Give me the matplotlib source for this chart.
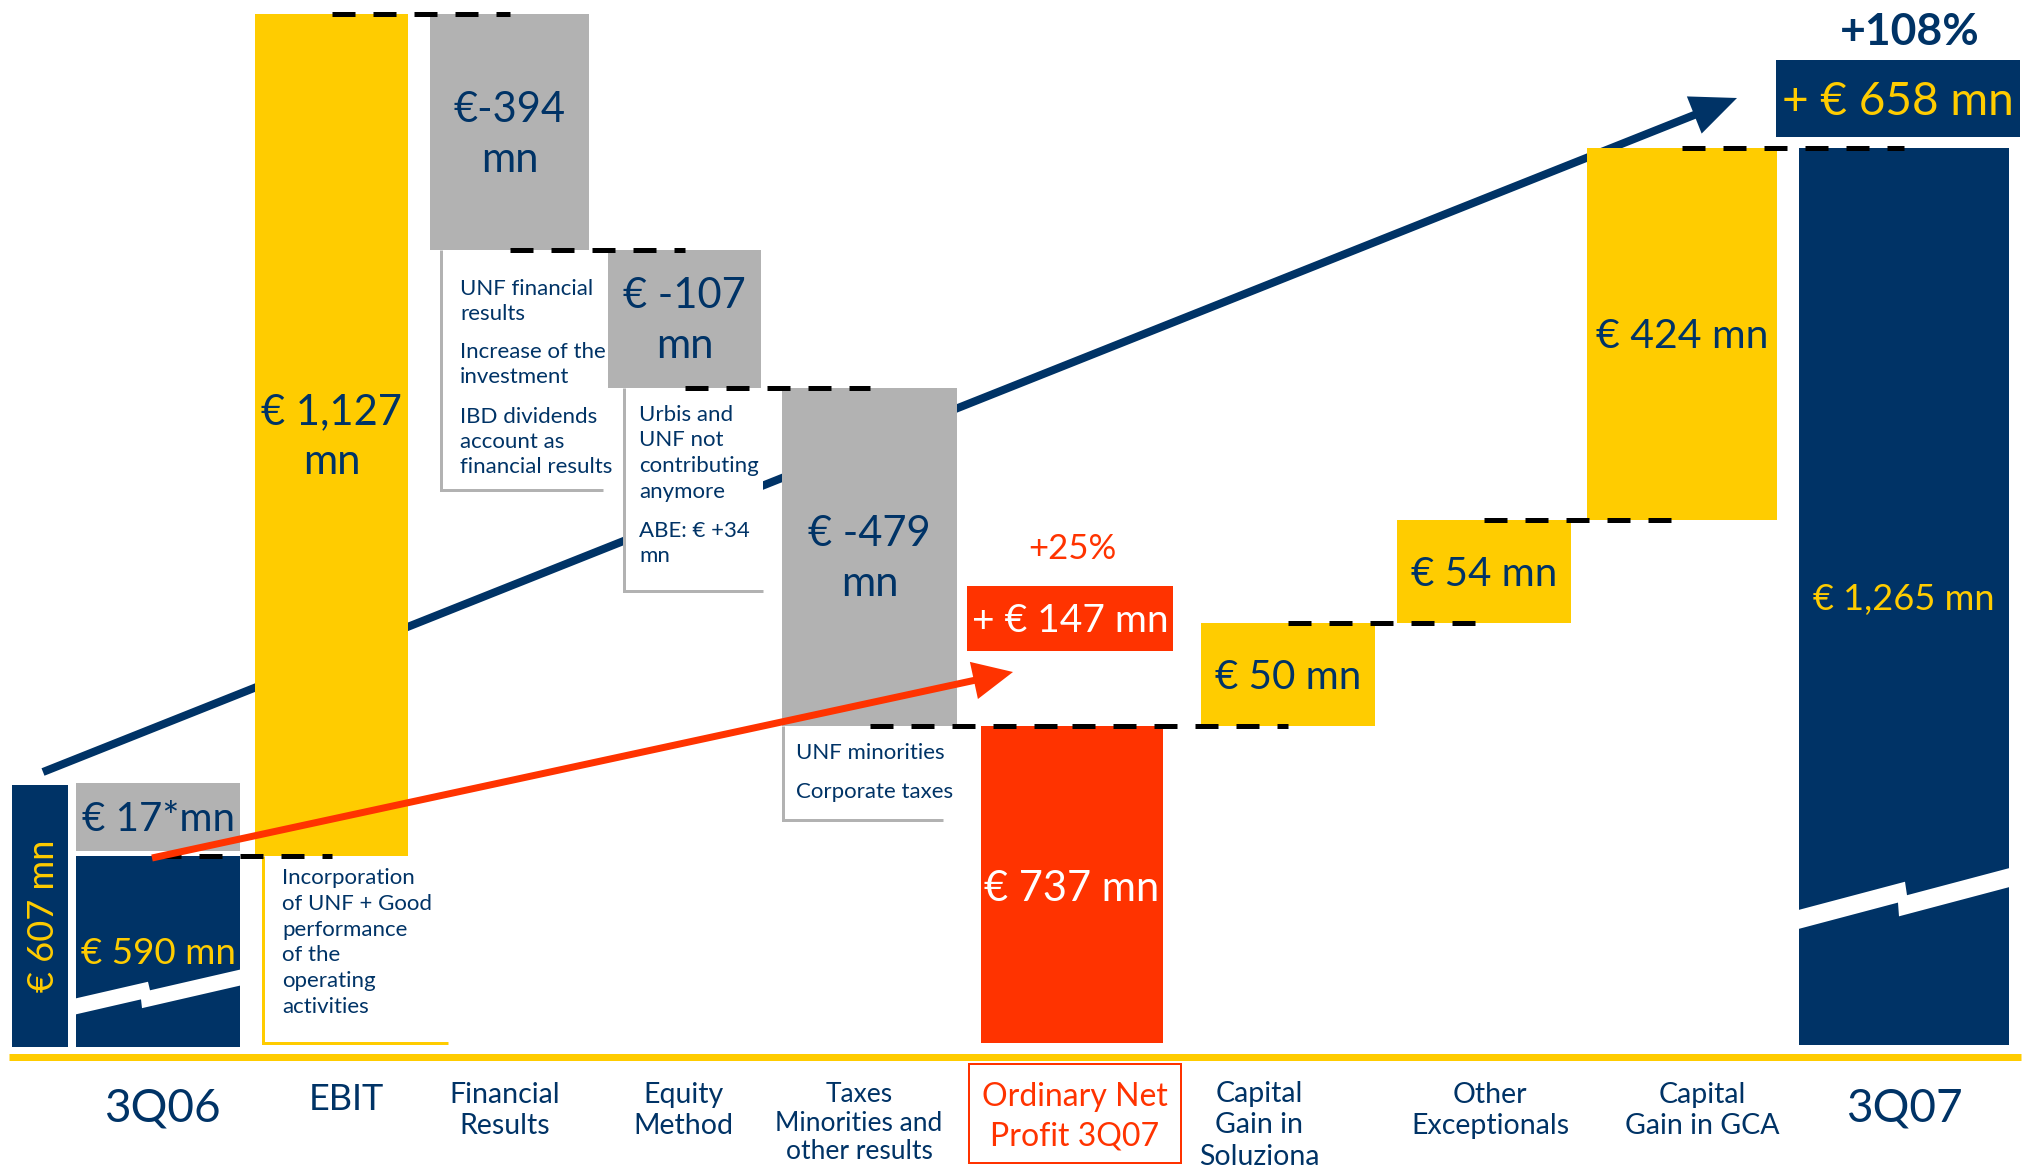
import numpy as np
import matplotlib
matplotlib.use("Agg")
import matplotlib.pyplot as plt
from matplotlib.patches import Rectangle, Polygon, FancyArrow

plt.rcParams['font.family'] = ['Lato', 'DejaVu Sans']

# ---------------- data ----------------
categories = ['3Q06', 'EBIT', 'Financial\nResults', 'Equity\nMethod',
              'Taxes\nMinorities and\nother results', 'Ordinary Net\nProfit 3Q07',
              'Capital\nGain in\nSoluziona', 'Other\nExceptionals',
              'Capital\nGain in GCA', '3Q07']
q306_ordinary = 590
q306_exceptional = 17
q306_total = 607
ordinary_steps = [1127, -394, -107, -479]      # EBIT, Financial, Equity, Taxes
ordinary_3q07 = 737
exceptional_steps = [50, 54, 424]             # Soluziona, Other, GCA
q307_total = 1265
ordinary_growth, ordinary_growth_pct = 147, 25
total_growth, total_growth_pct = 658, 108

# schematic heights as drawn in the picture (broken axis, not to scale), chart units
drawn_q306_ordinary = 191
drawn_q306_exceptional = 68
drawn_q306_total = 262
drawn_ordinary_steps = [842, -236, -138, -338]
drawn_exceptional_steps = [103, 103, 372]

note_ebit = [["Incorporation", "of UNF + Good", "performance", "of the", "operating", "activities"]]
note_fin = [["UNF financial", "results"], ["Increase of the", "investment"],
            ["IBD dividends", "account as", "financial results"]]
note_eq = [["Urbis and", "UNF not", "contributing", "anymore"], ["ABE: € +34", "mn"]]
note_tax = [["UNF minorities"], ["Corporate taxes"]]

# ---------------- style / layout ----------------
NAVY = '#003366'
YELLOW = '#FFCC00'
GRAY = '#B2B2B2'
RED = '#FF3300'
WHITE = '#FFFFFF'

W, H = 2031, 1168
BASE = 1047                      # pixel row of the bars' baseline
def Y(p):                        # pixel row -> chart units
    return BASE - p
PX = 72 / 100                    # points per pixel

x_607, w_607 = 40, 56
x_q306, w_q306 = 158, 164
x_ord_steps = [331.5, 509.5, 684.5, 869.5]
w_ord_steps = [153, 159, 153, 175]
x_ord, w_ord = 1072, 182
x_exc = [1288, 1484, 1682]
w_exc = [174, 174, 190]
x_q307, w_q307 = 1904, 210

fig = plt.figure(figsize=(W / 100, H / 100), dpi=100)
ax = fig.add_axes([0, 0, 1, 1])
ax.set_xlim(0, W)
ax.set_ylim(Y(H), Y(0))
ax.axis('off')

# ---------------- levels ----------------
lv_ord = drawn_q306_ordinary + np.cumsum(drawn_ordinary_steps)
prev_ord = np.concatenate([[drawn_q306_ordinary], lv_ord[:-1]])
bot_ord = np.minimum(prev_ord, lv_ord)
hgt_ord = np.abs(drawn_ordinary_steps)
drawn_ord_3q07 = lv_ord[-1]
lv_exc = drawn_ord_3q07 + np.cumsum(drawn_exceptional_steps)
bot_exc = lv_exc - np.array(drawn_exceptional_steps)
drawn_q307 = lv_exc[-1]

# ---------------- bars ----------------
kw = dict(linewidth=0, zorder=2)
ax.bar(x_607, drawn_q306_total, w_607, 0, color=NAVY, **kw)
ax.bar(x_q306, drawn_q306_ordinary, w_q306, 0, color=NAVY, **kw)
ax.bar(x_q306, drawn_q306_exceptional, w_q306, drawn_q306_ordinary + 5, color=GRAY, **kw)
ax.bar(x_ord_steps, hgt_ord, w_ord_steps, bot_ord,
       color=[YELLOW if v > 0 else GRAY for v in ordinary_steps], **kw)
ax.bar(x_ord, drawn_ord_3q07 - 4, w_ord, 4, color=RED, **kw)
ax.bar(x_exc, drawn_exceptional_steps, w_exc, bot_exc, color=YELLOW, **kw)
ax.bar(x_q307, drawn_q307 - 2, w_q307, 2, color=NAVY, **kw)


def draw_break(xl, xr, xb, yb, thick, step, slope):
    e = 2
    pts = [(xl - e, yb - slope * (xb - xl + e)), (xb + 1, yb + slope),
           (xb + 3, yb - step + 3 * slope), (xr + e, yb - step + slope * (xr + e - xb)),
           (xr + e, yb - step - thick + slope * (xr + e - xb)),
           (xb - 5, yb - step - thick - 5 * slope), (xb - 6, yb - thick - 6 * slope),
           (xl - e, yb - thick - slope * (xb - xl + e))]
    ax.add_patch(Polygon(pts, closed=True, facecolor=WHITE, edgecolor='none', zorder=3))


draw_break(x_q306 - w_q306 / 2, x_q306 + w_q306 / 2, 147, Y(982), 16, 9, 0.23)
draw_break(x_q307 - w_q307 / 2, x_q307 + w_q307 / 2, 1904, Y(882), 19, 14, 0.265)

# ---------------- dashed connectors ----------------
conns = [(x_q306, x_ord_steps[0], drawn_q306_ordinary)]
for i in range(3):
    conns.append((x_ord_steps[i], x_ord_steps[i + 1], lv_ord[i]))
conns.append((x_ord_steps[3], x_ord, lv_ord[3]))
conns.append((x_ord, x_exc[0], drawn_ord_3q07))
for i in range(2):
    conns.append((x_exc[i], x_exc[i + 1], lv_exc[i]))
conns.append((x_exc[2], x_q307, lv_exc[2]))
for x0, x1, yy in conns:
    ax.plot([x0, x1], [yy, yy], color='black', lw=5 * PX, linestyle=(0, (4.6, 3.6)),
            dash_capstyle='butt', zorder=4)

# ---------------- arrows ----------------
ax.add_patch(FancyArrow(43, Y(772), 1737 - 43, Y(98) - Y(772), width=8, head_width=40,
                        head_length=46, length_includes_head=True, color=NAVY,
                        linewidth=0, zorder=1))
ax.add_patch(FancyArrow(152, Y(858), 1013 - 152, Y(672) - Y(858), width=7, head_width=38,
                        head_length=40, length_includes_head=True, color=RED,
                        linewidth=0, zorder=6))

# ---------------- annotation brackets ----------------
def bracket(xv, ytop, ybot, xh, color, paras, xt, baselines):
    ax.add_patch(Rectangle((xv, ybot), xh - xv, ytop - ybot, facecolor=WHITE,
                           edgecolor='none', zorder=1.5))
    ax.plot([xv, xv, xh], [ytop, ybot, ybot], color=color, lw=3 * PX,
            solid_joinstyle='miter', solid_capstyle='butt', zorder=3)
    k = 0
    for para in paras:
        for line in para:
            ax.text(xt, Y(baselines[k]), line, fontsize=16, color=NAVY,
                    ha='left', va='baseline', zorder=5)
            k += 1


bracket(263, drawn_q306_ordinary, Y(1043), 448, YELLOW, note_ebit, 282,
        [884, 909.8, 935.6, 961.4, 987.2, 1013])
bracket(441, lv_ord[1], Y(490), 603, GRAY, note_fin, 460,
        [295, 320, 358, 383, 423, 448, 473])
bracket(624, lv_ord[2], Y(591), 763, GRAY, note_eq, 639,
        [421, 446.5, 472, 497.5, 537, 562])
bracket(783, lv_ord[3], Y(820), 943, GRAY, note_tax, 796, [759, 798])

# ---------------- value labels ----------------
def single(x, mid, s, size, color, **k):
    em = size / PX
    ax.text(x, mid - 0.35 * em, s, fontsize=size, color=color, ha='center',
            va='baseline', zorder=5, **k)


single(x_q306, drawn_q306_ordinary / 2, f"€ {q306_ordinary} mn", 26.5, YELLOW)
single(x_q306, drawn_q306_ordinary + 5 + drawn_q306_exceptional / 2,
       f"€ {q306_exceptional}*mn", 29, NAVY)
ax.text(x_607 + 3, drawn_q306_total / 2, f"€ {q306_total} mn", fontsize=26, color=YELLOW,
        rotation=90, ha='center', va='center', zorder=5)

for i, v in enumerate(ordinary_steps):
    mid = bot_ord[i] + hgt_ord[i] / 2
    first = f"€{'' if i == 1 else ' '}{v:,}"
    ax.text(x_ord_steps[i], mid + 10.5, first, fontsize=30, color=NAVY, ha='center',
            va='baseline', zorder=5)
    ax.text(x_ord_steps[i], mid - 39.5, "mn", fontsize=30, color=NAVY, ha='center',
            va='baseline', zorder=5)

single(x_ord, drawn_ord_3q07 / 2, f"€ {ordinary_3q07} mn", 30, WHITE)
for i, v in enumerate(exceptional_steps):
    single(x_exc[i], bot_exc[i] + drawn_exceptional_steps[i] / 2, f"€ {v} mn",
           29.5 if i == 2 else 29, NAVY)
single(x_q307, drawn_q307 / 2, f"€ {q307_total:,} mn", 26, YELLOW)

# growth call-outs
ax.text(1072, Y(547) - 0.35 * 25 / PX, f"+{ordinary_growth_pct}%", fontsize=25, color=RED,
        ha='center', va='baseline', zorder=5)
ax.add_patch(Rectangle((967, Y(651)), 206, 65, facecolor=RED, edgecolor='none', zorder=4))
ax.text(1070, (Y(651) + Y(586)) / 2 - 0.35 * 28 / PX, f"+ € {ordinary_growth} mn",
        fontsize=28, color=WHITE, ha='center', va='baseline', zorder=5)

ax.text(1910, Y(29) - 0.35 * 32 / PX, f"+{total_growth_pct}%", fontsize=32, color=NAVY,
        fontweight='bold', ha='center', va='baseline', zorder=5)
ax.add_patch(Rectangle((1776, Y(137)), 244, 77, facecolor=NAVY, edgecolor='none', zorder=4))
ax.text(1898, (Y(137) + Y(60)) / 2 - 0.35 * 33 / PX, f"+ € {total_growth} mn",
        fontsize=33, color=YELLOW, ha='center', va='baseline', zorder=5)

# ---------------- axis line and category labels ----------------
ax.plot([9, 2021], [Y(1056.5), Y(1056.5)], color=YELLOW, lw=7 * PX,
        solid_capstyle='butt', zorder=3)

cat_x = [162, 346, 505, 683, 859, 1075, 1259, 1490, 1702, 1904]
cat_size = [33, 26, 20.5, 20.5, 19, 23, 20.5, 20.5, 20.5, 33]
cat_base = [[1122], [1110], [1103, 1134], [1103, 1134], [1102, 1131, 1159],
            [1106, 1145], [1102, 1133, 1165], [1103, 1134], [1103, 1134], [1122]]
for i, lab in enumerate(categories):
    col = RED if i == 5 else NAVY
    for line, b in zip(lab.split('\n'), cat_base[i]):
        ax.text(cat_x[i], Y(b), line, fontsize=cat_size[i], color=col, ha='center',
                va='baseline', zorder=5)
ax.add_patch(Rectangle((969, Y(1163)), 212, 99, facecolor='none', edgecolor=RED,
                       lw=2 * PX, zorder=5))

fig.savefig('out.png', dpi=100)
